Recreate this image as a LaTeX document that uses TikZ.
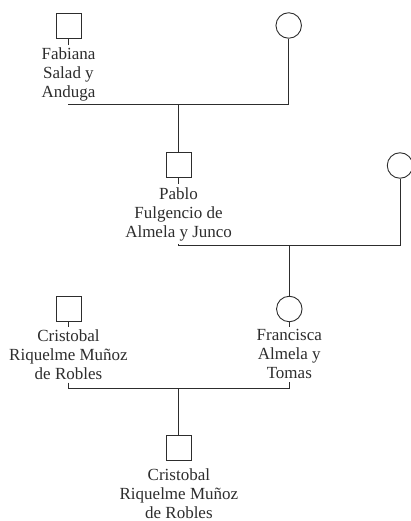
\documentclass[tikz,border=0pt]{standalone}
\usepackage{fontspec}
\setmainfont{Liberation Serif}
\definecolor{ink}{RGB}{45,45,45}
\begin{document}
\begin{tikzpicture}[x=1pt,y=-1pt,
  line width=0.9pt,
  malebox/.style={draw=ink, rectangle, minimum size=25pt, inner sep=0pt},
  femalebox/.style={draw=ink, circle, minimum size=25.5pt, inner sep=0pt},
  pname/.style={anchor=north, align=center, text=ink, inner xsep=0pt, inner ysep=2.6pt,
    font=\fontsize{17}{19}\selectfont},
  rel/.style={draw=ink, line width=0.9pt}]
\useasboundingbox (0,0) rectangle (411,521);
% generation 1
\node[malebox] (sqA) at (68.5,25.5) {};
\node[femalebox] (ciA) at (288.7,25.5) {};
\node[pname] (tA) at (68.5,44.8) {Fabiana\\Salad y\\Anduga};
\coordinate (cA) at (68.5,104.5);
\coordinate (cA2) at (288.7,104.5);
\coordinate (mA) at (178.6,104.5);
% generation 2
\node[malebox] (sqB) at (178.6,164.8) {};
\node[femalebox] (ciB) at (400,165.5) {};
\node[pname] (tB) at (178.6,184.3) {Pablo\\Fulgencio de\\Almela y Junco};
\coordinate (cB) at (178.6,245.7);
\coordinate (cB2) at (400,245.7);
\coordinate (mB) at (289.3,245.7);
% generation 3
\node[malebox] (sqC) at (68.5,309) {};
\node[femalebox] (ciC) at (289.3,309) {};
\node[pname] (tC) at (68.5,326.6) {Cristobal\\Riquelme Muñoz\\de Robles};
\node[pname] (tC2) at (289.3,326.6) {Francisca\\Almela y\\Tomas};
\coordinate (cC) at (68.5,388);
\coordinate (cC2) at (289.3,388);
\coordinate (mC) at (178.9,388);
% generation 4
\node[malebox] (sqD) at (178.9,447.7) {};
\node[pname] (tD) at (178.9,465.4) {Cristobal\\Riquelme Muñoz\\de Robles};
% connectors
\draw[rel] (sqA) -- (tA);
\draw[rel] (tA.south) -- (cA) -- (cA2) -- (ciA);
\draw[rel] (mA) -- (sqB);
\draw[rel] (sqB) -- (tB);
\draw[rel] (tB.south) -- (cB) -- (cB2) -- (ciB);
\draw[rel] (mB) -- (ciC);
\draw[rel] (sqC) -- (tC);
\draw[rel] (ciC) -- (tC2);
\draw[rel] (tC.south) -- (cC) -- (cC2) -- (tC2.south);
\draw[rel] (mC) -- (sqD);
\end{tikzpicture}
\end{document}
